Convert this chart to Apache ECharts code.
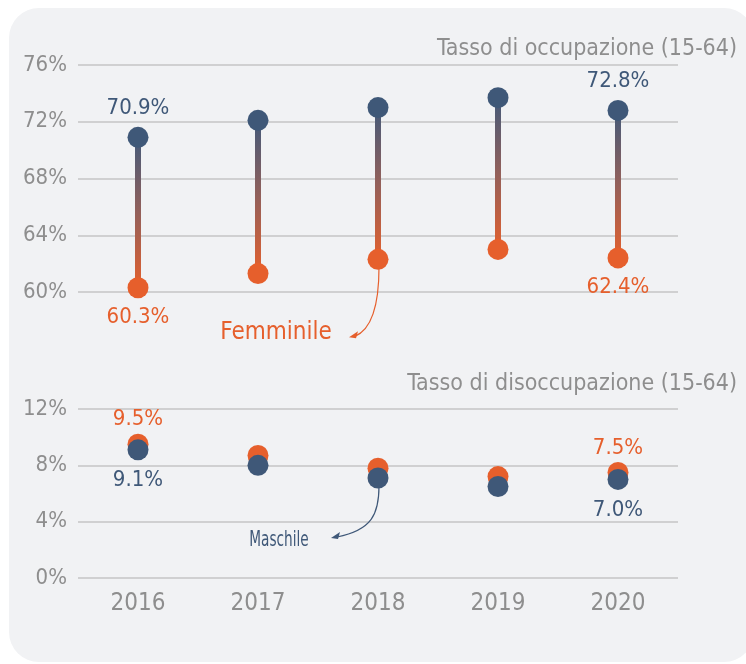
<!DOCTYPE html>
<html>
<head>
<meta charset="utf-8">
<script src="https://cdn.jsdelivr.net/npm/echarts@6/dist/echarts.min.js"></script>
<style>
    html, body { margin: 0; padding: 0; background: #ffffff; }
    #chart { width: 746px; height: 664px; }
</style>
</head>
<body>
<div id="chart"></div>
<script>
    // anni
    var years = ['2016', '2017', '2018', '2019', '2020']
    // tasso di occupazione (15-64)
    var occMaschile = [70.9, 72.1, 73.0, 73.7, 72.8]
    var occFemminile = [60.3, 61.3, 62.3, 63.0, 62.4]
    // tasso di disoccupazione (15-64)
    var disMaschile = [9.1, 8.0, 7.1, 6.5, 7.0]
    var disFemminile = [9.5, 8.7, 7.8, 7.2, 7.5]
    // anni con etichetta
    var labelled = ['2016', '2020']

    var blue = '#3f5878'
    var orange = '#e65f2c'
    var grey = '#8e8e8e'
    var font = '"DejaVu Sans Condensed", "Liberation Sans Narrow", sans-serif'

    function fmt (params) {
        if (labelled.indexOf(params.name) < 0) return ''
        return params.value[1].toFixed(1) + '%'
    }

    function pairs (vals) {
        return vals.map(function (v, i) { return { name: years[i], value: [years[i], v] } })
    }

    var chart = echarts.init(document.getElementById('chart'))

    var axisLabel = { color: grey, fontSize: 22, fontFamily: font, margin: 11 }
    var splitLine = { show: true, lineStyle: { color: '#c4c4c6', width: 1.5 } }

    chart.setOption({
        backgroundColor: 'transparent',
        animation: false,
        title: [
            {
                text: 'Tasso di occupazione (15-64)',
                right: 4,
                top: 33,
                textStyle: { color: grey, fontSize: 23, fontWeight: 'normal', fontFamily: font }
            },
            {
                text: 'Tasso di disoccupazione (15-64)',
                right: 4,
                top: 368,
                textStyle: { color: grey, fontSize: 23, fontWeight: 'normal', fontFamily: font }
            }
        ],
        grid: [
            { left: 78, right: 68, top: 65, height: 227 },
            { left: 78, right: 68, top: 409, height: 169 }
        ],
        xAxis: [
            {
                gridIndex: 0, type: 'category', data: years,
                axisLine: { show: false }, axisTick: { show: false }, axisLabel: { show: false }
            },
            {
                gridIndex: 1, type: 'category', data: years,
                axisLine: { show: false }, axisTick: { show: false },
                axisLabel: { color: grey, fontSize: 24, fontFamily: font, margin: 14 }
            }
        ],
        yAxis: [
            {
                gridIndex: 0, type: 'value', min: 60, max: 76, interval: 4,
                axisLine: { show: false }, axisTick: { show: false },
                axisLabel: Object.assign({ formatter: '{value}%' }, axisLabel),
                splitLine: splitLine
            },
            {
                gridIndex: 1, type: 'value', min: 0, max: 12, interval: 4,
                axisLine: { show: false }, axisTick: { show: false },
                axisLabel: Object.assign({ formatter: '{value}%' }, axisLabel),
                splitLine: splitLine
            }
        ],
        series: [
            {
                // asta con gradiente tra maschile e femminile
                type: 'custom',
                xAxisIndex: 0,
                yAxisIndex: 0,
                data: years.map(function (y, i) { return [i, occMaschile[i], occFemminile[i]] }),
                renderItem: function (params, api) {
                    var top = api.coord([api.value(0), api.value(1)])
                    var bottom = api.coord([api.value(0), api.value(2)])
                    return {
                        type: 'rect',
                        shape: { x: top[0] - 3, y: top[1], width: 6, height: bottom[1] - top[1] },
                        style: {
                            fill: new echarts.graphic.LinearGradient(0, 0, 0, 1, [
                                { offset: 0, color: '#435a7a' },
                                { offset: 0.5, color: '#93605a' },
                                { offset: 1, color: '#e3602e' }
                            ])
                        }
                    }
                }
            },
            {
                name: 'Femminile',
                type: 'scatter',
                xAxisIndex: 0, yAxisIndex: 0,
                symbolSize: 21,
                itemStyle: { color: orange, opacity: 1 },
                label: { show: true, position: 'bottom', distance: 8, formatter: fmt, color: orange, fontSize: 22, fontFamily: font },
                data: pairs(occFemminile)
            },
            {
                name: 'Maschile',
                type: 'scatter',
                xAxisIndex: 0, yAxisIndex: 0,
                symbolSize: 21,
                itemStyle: { color: blue, opacity: 1 },
                label: { show: true, position: 'top', distance: 8, formatter: fmt, color: blue, fontSize: 22, fontFamily: font },
                data: pairs(occMaschile)
            },
            {
                name: 'Femminile',
                type: 'scatter',
                xAxisIndex: 1, yAxisIndex: 1,
                symbolSize: 21,
                itemStyle: { color: orange, opacity: 1 },
                label: { show: true, position: 'top', distance: 3, formatter: fmt, color: orange, fontSize: 22, fontFamily: font },
                data: pairs(disFemminile)
            },
            {
                name: 'Maschile',
                type: 'scatter',
                xAxisIndex: 1, yAxisIndex: 1,
                symbolSize: 21,
                itemStyle: { color: blue, opacity: 1 },
                label: { show: true, position: 'bottom', distance: 9, formatter: fmt, color: blue, fontSize: 22, fontFamily: font },
                data: pairs(disMaschile)
            }
        ]
    })

    // annotazioni con freccia curva, ancorate al punto 2018
    var f = chart.convertToPixel({ xAxisIndex: 0, yAxisIndex: 0 }, ['2018', occFemminile[2]])
    var m = chart.convertToPixel({ xAxisIndex: 1, yAxisIndex: 1 }, ['2018', disMaschile[2]])

    function arrow (p, dx, dy, color) {
        var ex = p[0] + dx
        var ey = p[1] + dy
        return [
            {
                type: 'bezierCurve',
                shape: { x1: p[0] + 1, y1: p[1] + 8, cpx1: p[0] + 1, cpy1: p[1] + dy * 0.6, cpx2: p[0] - 6, cpy2: ey - 8, x2: ex + 6, y2: ey - 1 },
                style: { stroke: color, lineWidth: 1.2, fill: null }
            },
            {
                type: 'polygon',
                shape: { points: [[ex, ey], [ex + 9, ey - 6], [ex + 7, ey + 1]] },
                style: { fill: color }
            }
        ]
    }

    chart.setOption({
        graphic: [{
            type: 'rect',
            z: -10,
            shape: { x: 9, y: 8, width: 745, height: 654, r: 30 },
            style: { fill: '#f1f2f4' }
        }].concat(arrow(f, -29, 78, orange), arrow(m, -47, 60, blue), [
            {
                type: 'text',
                x: f[0] - 102,
                y: f[1] + 73,
                style: { text: 'Femminile', fill: orange, font: '24px ' + font, textAlign: 'center', textVerticalAlign: 'middle' }
            },
            {
                type: 'text',
                x: m[0] - 99,
                y: m[1] + 62,
                scaleX: 0.8,
                scaleY: 1.15,
                style: { text: 'Maschile', fill: blue, font: '19px ' + font, textAlign: 'center', textVerticalAlign: 'middle' }
            }
        ])
    })
</script>
</body>
</html>
